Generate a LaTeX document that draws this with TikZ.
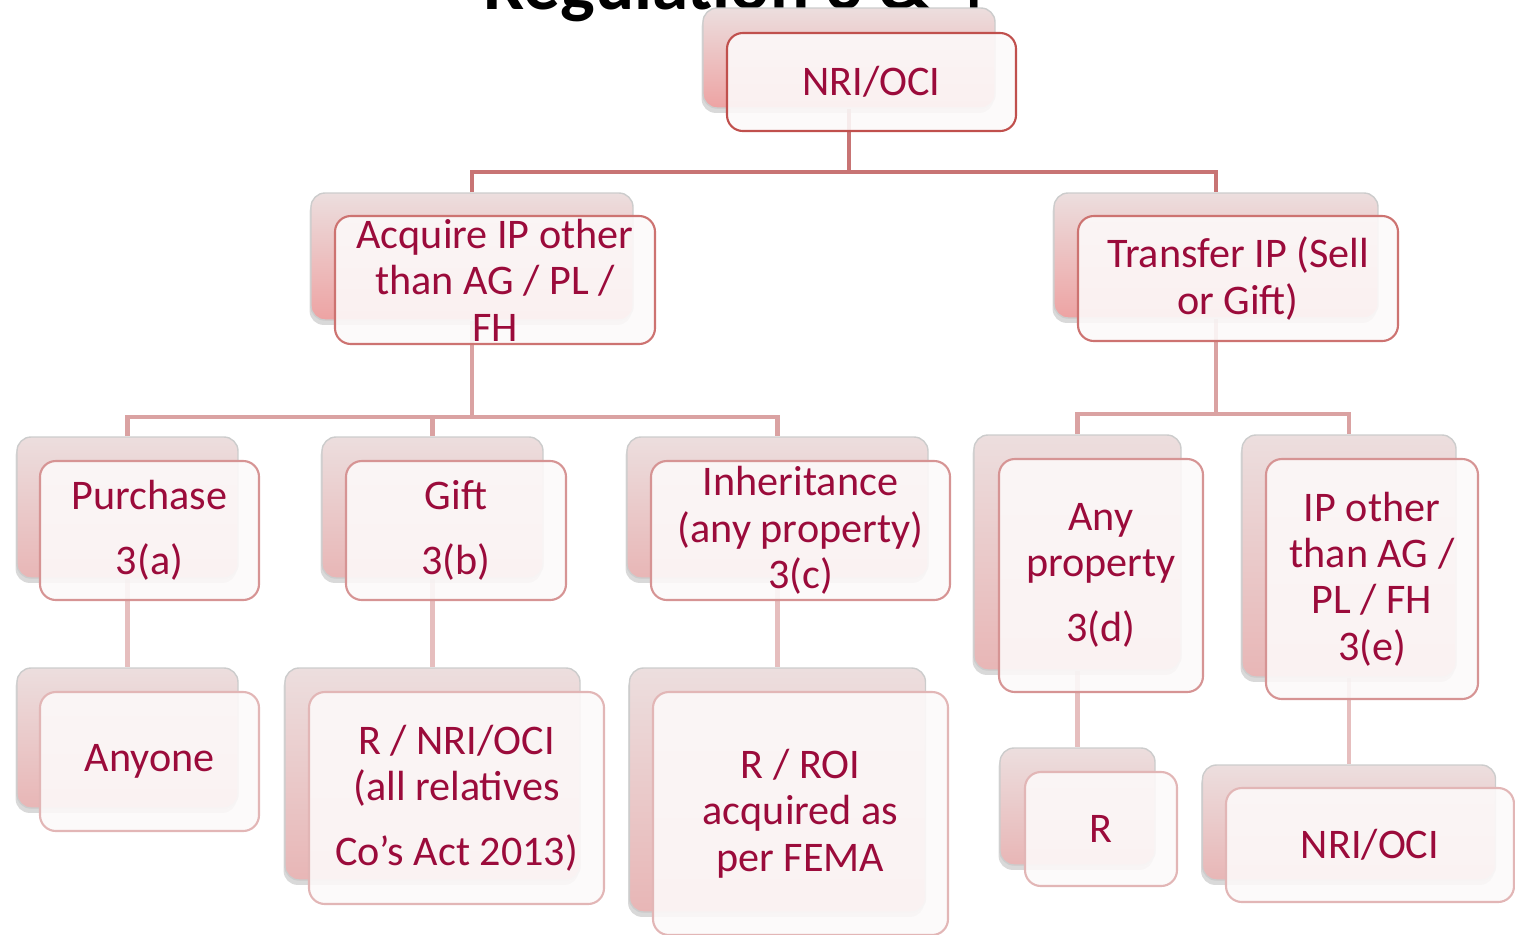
\documentclass[tikz,border=0pt]{standalone}
\usepackage{fontspec}
\setmainfont{Carlito}
\usepackage{tikz}
\usetikzlibrary{positioning,shadows,backgrounds}
\definecolor{regred}{HTML}{9B0B3B}
\definecolor{bordtop}{HTML}{C0504D}
\definecolor{bordmid}{HTML}{D69494}
\definecolor{bordlow}{HTML}{E2B6B6}
\definecolor{lineA}{HTML}{C87474}
\definecolor{lineB}{HTML}{DAA2A2}
\definecolor{lineC}{HTML}{E6BEBE}
\definecolor{frontfill}{HTML}{FCF9F9}
\definecolor{backtop}{HTML}{ECDEDE}
\definecolor{backhi}{HTML}{EDA3A3}
\definecolor{backlow}{HTML}{E8B6B6}

\begin{document}
\begin{tikzpicture}[
  back/.style={draw=black!20, rounded corners=4pt, inner sep=0pt,
    top color=backtop, bottom color=#1,
    drop shadow={opacity=0.3, shadow xshift=-0.4pt, shadow yshift=-1.4pt}},
  back/.default=backlow,
  front/.style={draw=#1, line width=0.6pt, rounded corners=4.5pt, inner sep=0pt,
    fill=frontfill, fill opacity=0.9, text opacity=1, text=regred, align=center,
    font=\fontsize{12}{13.2}\selectfont},
  front/.default=bordlow,
  lkA/.style={draw=lineA, line width=1.4pt},
  lkB/.style={draw=lineB, line width=1.4pt},
  lkC/.style={draw=lineC, line width=1.3pt}
]
\useasboundingbox (0,0) rectangle (15.15,-9.35);
\begin{scope}
  \clip (0,0) rectangle (15.15,-9.35);
  \node[anchor=base, font=\fontsize{20.8}{24}\selectfont\bfseries] (title) at (7.34,-0.09) {Regulation 3 \& 4};
\end{scope}

% top
\node[back=backhi, minimum width=2.92cm, minimum height=1cm] (nriB) at (8.49,-0.58) {};
\node[front=bordtop, minimum width=2.89cm, minimum height=0.98cm] (nri) at ([shift={(0.225,-0.24)}]nriB) {NRI/OCI};

% second row
\node[back=backhi, minimum width=3.22cm, minimum height=1.27cm] (acqB) at (4.72,-2.565) {};
\node[front=bordtop!80, minimum width=3.2cm, minimum height=1.28cm] (acq) at ([shift={(0.23,-0.235)}]acqB) {Acquire IP other\\than AG / PL /\\FH};
\node[back=backhi, minimum width=3.24cm, minimum height=1.25cm] (trfB) at (12.16,-2.555) {};
\node[front=bordtop!80, minimum width=3.2cm, minimum height=1.25cm] (trf) at ([shift={(0.22,-0.23)}]trfB) {Transfer IP (Sell\\or Gift)};

% third row
\node[back, minimum width=2.21cm, minimum height=1.41cm] (purB) at (1.275,-5.075) {};
\node[front=bordmid, minimum width=2.19cm, minimum height=1.39cm] (pur) at ([shift={(0.22,-0.23)}]purB) {Purchase\\[5.3pt]3(a)};
\node[back, minimum width=2.21cm, minimum height=1.41cm] (giftB) at (4.325,-5.075) {};
\node[front=bordmid, minimum width=2.2cm, minimum height=1.39cm] (gift) at ([shift={(0.235,-0.23)}]giftB) {Gift\\[5.3pt]3(b)};
\node[back, minimum width=3.01cm, minimum height=1.41cm] (inhB) at (7.775,-5.075) {};
\node[front=bordmid, minimum width=2.99cm, minimum height=1.39cm] (inh) at ([shift={(0.23,-0.23)}]inhB) {Inheritance\\(any property)\\3(c)};
\node[back, minimum width=2.07cm, minimum height=2.35cm] (anypB) at (10.775,-5.525) {};
\node[front=bordmid, minimum width=2.04cm, minimum height=2.33cm] (anyp) at ([shift={(0.235,-0.23)}]anypB) {Any\\property\\[5.3pt]3(d)};
\node[back, minimum width=2.14cm, minimum height=2.42cm] (ipoB) at (13.49,-5.56) {};
\node[front=bordmid, minimum width=2.12cm, minimum height=2.4cm] (ipo) at ([shift={(0.23,-0.23)}]ipoB) {IP other\\than AG /\\PL / FH\\3(e)};

% fourth row
\node[back, minimum width=2.21cm, minimum height=1.4cm] (anyoneB) at (1.275,-7.38) {};
\node[front, minimum width=2.19cm, minimum height=1.39cm] (anyone) at ([shift={(0.22,-0.235)}]anyoneB) {Anyone};
\node[back, minimum width=2.95cm, minimum height=2.12cm] (relB) at (4.325,-7.74) {};
\node[front, minimum width=2.95cm, minimum height=2.12cm] (rel) at ([shift={(0.24,-0.24)}]relB) {R / NRI/OCI\\(all relatives\\[5.3pt]Co’s Act 2013)};
\node[back, minimum width=2.96cm, minimum height=2.44cm] (roiB) at (7.775,-7.9) {};
\node[front, minimum width=2.95cm, minimum height=2.43cm] (roi) at ([shift={(0.23,-0.235)}]roiB) {R / ROI\\acquired as\\per FEMA};
\node[back, minimum width=1.55cm, minimum height=1.17cm] (resB) at (10.775,-8.065) {};
\node[front, minimum width=1.52cm, minimum height=1.14cm] (res) at ([shift={(0.235,-0.225)}]resB) {R};
\node[back, minimum width=2.93cm, minimum height=1.15cm] (nri2B) at (13.49,-8.225) {};
\node[front, minimum width=2.88cm, minimum height=1.14cm] (nri2) at ([shift={(0.21,-0.225)}]nri2B) {NRI/OCI};

% links
\coordinate (barA) at (0,-1.72);
\coordinate (barB) at (0,-4.17);
\coordinate (barC) at (0,-4.14);
\begin{scope}[on background layer]
  \draw[lkA] (nriB) -- (nriB |- barA);
  \draw[lkA] (acqB) |- (trfB |- barA) -- (trfB);
  \draw[lkB] (acqB) -- (acqB |- barB);
  \draw[lkB] (purB) |- (inhB |- barB) -- (inhB);
  \draw[lkB] (giftB) -- (giftB |- barB);
  \draw[lkB] (trfB) -- (trfB |- barC);
  \draw[lkB] (anypB) |- (ipoB |- barC) -- (ipoB);
  \draw[lkC] (purB) -- (anyoneB);
  \draw[lkC] (giftB) -- (relB);
  \draw[lkC] (inhB) -- (roiB);
  \draw[lkC] (anypB) -- (resB);
  \draw[lkC] (ipoB) -- (nri2B);
\end{scope}
\end{tikzpicture}
\end{document}
